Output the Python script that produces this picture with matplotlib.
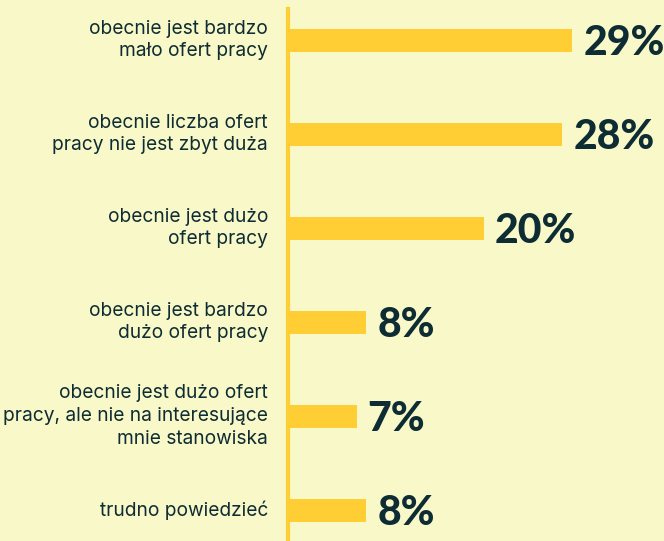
import matplotlib
matplotlib.use("Agg")
import matplotlib.pyplot as plt

categories = [
    "obecnie jest bardzo\nmało ofert pracy",
    "obecnie liczba ofert\npracy nie jest zbyt duża",
    "obecnie jest dużo\nofert pracy",
    "obecnie jest bardzo\ndużo ofert pracy",
    "obecnie jest dużo ofert\npracy, ale nie na interesujące\nmnie stanowiska",
    "trudno powiedzieć",
]
values = [29, 28, 20, 8, 7, 8]

BG = "#F8F8C8"
BAR = "#FFCE34"
TEXT = "#0E2C33"

W, H = 664, 541
fig = plt.figure(figsize=(W / 100, H / 100), dpi=100, facecolor=BG)
ax_left = 288 / W
ax = fig.add_axes([ax_left, 0, 1 - ax_left, 1])
ax.set_facecolor(BG)

px_per_unit = 9.8
ax.set_xlim(0, (W - 288) / px_per_unit)
row = 94.0
ax.set_ylim(5 + (H - 510) / row, -40 / row)

ys = list(range(len(values)))
ax.barh(ys, values, height=23 / row, color=BAR, left=0)

ax.axvline(0, ymin=0, ymax=(H - 9) / H, color=BAR, lw=3, clip_on=False)

for y, v, lab in zip(ys, values, categories):
    ax.annotate(f"{v}%", xy=(v, y), xytext=(11, -3), textcoords="offset pixels",
                va="center", ha="left", fontsize=29.5, fontweight="black",
                family="Lato", color=TEXT, annotation_clip=False)
    ax.annotate(lab, xy=(0, y), xytext=(-20, 0), textcoords="offset pixels",
                ha="right", va="center", multialignment="right",
                fontsize=13.8, family="Inter", color=TEXT, linespacing=1.35,
                annotation_clip=False)

for s in ax.spines.values():
    s.set_visible(False)
ax.set_xticks([])
ax.set_yticks([])

fig.savefig("out.png", dpi=100, facecolor=BG)
